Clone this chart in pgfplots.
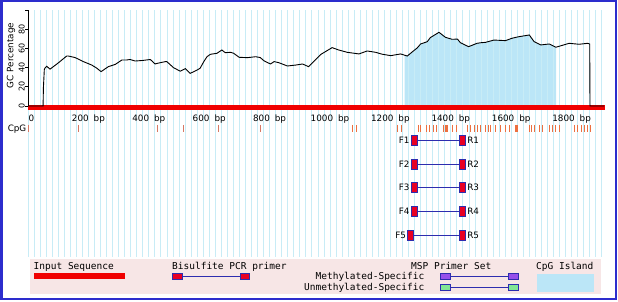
\documentclass[border=0pt]{standalone}
\usepackage{pgfplots}
\pgfplotsset{compat=1.18}
\usepackage{pgfplotstable}
\usepgfplotslibrary{fillbetween}
\usepackage{fontspec}
\setmainfont{DejaVu Sans}
\newfontfamily\monof{DejaVu Sans Mono}
\newcommand\sfs{\fontsize{8.8pt}{10pt}\selectfont}
\newcommand\yfs{\fontsize{8pt}{9pt}\selectfont}
\newcommand\lfs{\monof\fontsize{9.5pt}{11pt}\selectfont}

\definecolor{gridc}{RGB}{200,236,246}
\definecolor{islandc}{RGB}{187,230,247}
\definecolor{barred}{RGB}{240,0,0}
\definecolor{tickc}{RGB}{150,40,40}
\definecolor{cpgc}{RGB}{236,112,64}
\definecolor{cpgl}{RGB}{214,120,100}
\definecolor{primerblue}{RGB}{45,45,175}
\definecolor{primerred}{RGB}{232,0,36}
\definecolor{bordc}{RGB}{45,45,205}
\definecolor{legbg}{RGB}{247,230,230}
\definecolor{mspurple}{RGB}{150,80,235}
\definecolor{usgreen}{RGB}{130,230,150}

\pgfdeclareplotmark{primer}{\pgfpathrectangle{\pgfqpoint{-3pt}{-5pt}}{\pgfqpoint{6pt}{10pt}}\pgfusepathqfillstroke}

\pgfplotstableread{
bp gc
0 0
50 0
51 19
54 38
56 39.5
62 41.5
73 38.5
101 45.2
128 52.2
134 52.2
156 50.6
184 46.3
211 42.8
228 39.5
242 35.9
266 41.1
289 43.5
311 48.1
327 48.1
338 48.6
355 47.0
380 47.6
405 48.6
421 43.9
427 44.5
454 46.3
460 46.3
482 40.0
504 36.4
521 39.0
537 34.1
559 37.4
570 39.5
582 46.3
593 51.6
604 54.0
626 55.1
642 58.5
653 55.7
671 56.1
681 55.1
699 50.9
726 50.5
754 51.5
769 50.6
782 47.1
803 43.9
815 46.4
831 45.2
859 41.8
887 42.8
909 43.9
929 41.1
948 47.1
970 54.0
1007 61.0
1029 58.5
1057 56.1
1096 54.4
1123 57.5
1151 56.1
1173 54.1
1201 52.6
1234 54.4
1256 52.2
1273 56.7
1289 60.7
1300 64.8
1322 67.2
1332 71.4
1361 77.0
1382 71.8
1404 69.7
1422 69.9
1432 66.1
1459 62.0
1487 65.5
1499 66.1
1515 66.5
1543 68.9
1581 68.3
1603 70.8
1625 72.4
1660 74.2
1676 67.2
1698 63.8
1726 64.8
1748 61.4
1792 65.5
1825 64.5
1853 65.5
1860 64.8
1861 0
1908 0
}\gcdata

\begin{document}
\begin{tikzpicture}
% background grid
\begin{axis}[at={(28pt,45pt)}, anchor=south west, scale only axis,
  width=576.8pt, height=247pt, xmin=0, xmax=1910, ymin=0, ymax=1,
  axis line style={draw=none}, xtick={0,20,...,1900}, ytick=\empty,
  xticklabels={}, xmajorgrids, major grid style={gridc, line width=0.8pt},
  tick style={draw=none}]
\addplot[draw=none] coordinates {(0,0)};
\end{axis}

% GC curve
\begin{axis}[at={(28pt,196pt)}, anchor=south west, scale only axis,
  width=576.8pt, height=95.7pt, xmin=0, xmax=1910, ymin=0, ymax=100,
  clip=false, axis x line*=bottom, axis y line=none,
  x axis line style={draw=none}, tick align=inside,
  xtick={0,200,...,1800}, minor xtick={40,80,...,1880},
  major tick length=6pt, minor tick length=4.3pt,
  tick style={tickc, line width=0.8pt},
  xticklabels={{\hspace*{7pt}0},{200\hspace{5pt}bp},{400\hspace{5pt}bp},{600\hspace{5pt}bp},{800\hspace{5pt}bp},{1000\hspace{5pt}bp},{1200\hspace{5pt}bp},{1400\hspace{5pt}bp},{1600\hspace{5pt}bp},{1800\hspace{5pt}bp}},
  xticklabel style={font=\sfs, anchor=base, inner sep=0pt, yshift=-15.5pt}]
\addplot[draw=none, name path=gc] table[x=bp,y=gc]{\gcdata};
\addplot[draw=none, name path=base] coordinates {(0,0) (1910,0)};
\addplot[islandc, draw=none] fill between[of=gc and base, soft clip={domain=1247:1749}];
\addplot[fill=barred, draw=none] coordinates {(0,1.0) (1910,1.0) (1910,-4.7) (0,-4.7)};
\addplot[black, line width=0.9pt] table[x=bp,y=gc]{\gcdata};
\end{axis}

% y axis
\begin{axis}[at={(28pt,196pt)}, anchor=south west, scale only axis,
  width=576.8pt, height=95.7pt, xmin=0, xmax=1910, ymin=0, ymax=100,
  axis y line*=left, axis x line=none, tick align=outside,
  major tick length=3pt, ytick={0,20,...,100}, yticklabels={0,20,40,60,80,},
  yticklabel style={font=\yfs, rotate=90, anchor=south, inner sep=0pt},
  y axis line style={line width=0.8pt}, tick style={black, line width=0.8pt}]
\addplot[draw=none] coordinates {(0,0)};
\end{axis}

% canvas: CpG sites and primers
\begin{axis}[at={(28pt,0pt)}, anchor=south west, scale only axis,
  width=576.8pt, height=302pt, xmin=0, xmax=1910, ymin=-302, ymax=0,
  hide axis, clip=false]
\addplot[only marks, mark=|, mark size=3.5pt, cpgl, mark options={line width=0.9pt}]
  coordinates {(3,-128.5) (166,-128.5) (427,-128.5) (514,-128.5) (630,-128.5) (769,-128.5)};
\addplot[only marks, mark=|, mark size=3.5pt, cpgc, mark options={line width=0.9pt}]
  coordinates {(1073,-128.5) (1087,-128.5) (1225,-128.5) (1238,-128.5)
  (1292,-128.5) (1300,-128.5) (1320,-128.5) (1330,-128.5) (1343,-128.5) (1352,-128.5)
  (1377,-128.5) (1381,-128.5) (1385,-128.5) (1389,-128.5) (1405,-128.5) (1418,-128.5)
  (1455,-128.5) (1466,-128.5) (1477,-128.5) (1488,-128.5) (1499,-128.5)
  (1516,-128.5) (1524,-128.5) (1532,-128.5) (1549,-128.5) (1565,-128.5) (1582,-128.5) (1593,-128.5)
  (1613,-128.5) (1617,-128.5) (1621,-128.5) (1659,-128.5) (1667,-128.5) (1676,-128.5)
  (1693,-128.5) (1704,-128.5) (1726,-128.5) (1737,-128.5) (1748,-128.5) (1759,-128.5)
  (1809,-128.5) (1820,-128.5) (1831,-128.5) (1842,-128.5) (1853,-128.5) (1864,-128.5)};
\pgfplotsset{primerrow/.style={primerblue, line width=0.9pt, mark=primer,
  mark options={fill=primerred, draw=primerblue, line width=0.8pt}}}
\addplot[primerrow] coordinates {(1279,-140) (1439,-140)};
\addplot[primerrow] coordinates {(1279,-164) (1439,-164)};
\addplot[primerrow] coordinates {(1279,-187.5) (1439,-187.5)};
\addplot[primerrow] coordinates {(1279,-211.5) (1439,-211.5)};
\addplot[primerrow] coordinates {(1267,-235) (1439,-235)};
\node[anchor=east, inner sep=0pt, font=\sfs, xshift=-4.5pt] at (axis cs:1279,-140) {F1};
\node[anchor=east, inner sep=0pt, font=\sfs, xshift=-4.5pt] at (axis cs:1279,-164) {F2};
\node[anchor=east, inner sep=0pt, font=\sfs, xshift=-4.5pt] at (axis cs:1279,-187.5) {F3};
\node[anchor=east, inner sep=0pt, font=\sfs, xshift=-4.5pt] at (axis cs:1279,-211.5) {F4};
\node[anchor=east, inner sep=0pt, font=\sfs, xshift=-4.5pt] at (axis cs:1267,-235) {F5};
\node[anchor=west, inner sep=0pt, font=\sfs, xshift=4.5pt] at (axis cs:1439,-140) {R1};
\node[anchor=west, inner sep=0pt, font=\sfs, xshift=4.5pt] at (axis cs:1439,-164) {R2};
\node[anchor=west, inner sep=0pt, font=\sfs, xshift=4.5pt] at (axis cs:1439,-187.5) {R3};
\node[anchor=west, inner sep=0pt, font=\sfs, xshift=4.5pt] at (axis cs:1439,-211.5) {R4};
\node[anchor=west, inner sep=0pt, font=\sfs, xshift=4.5pt] at (axis cs:1439,-235) {R5};
\end{axis}

% labels
\node[rotate=90, font=\sfs, inner sep=0pt] at (11pt,246.5pt) {GC Percentage};
\node[anchor=base east, font=\sfs, inner sep=0pt] at (26.5pt,170pt) {CpG};

% legend
\fill[legbg] (30pt,8pt) rectangle (601pt,43pt);
\node[anchor=base west, inner sep=0pt, font=\lfs] at (33.5pt,32.5pt) {Input Sequence};
\fill[barred] (33.5pt,23pt) rectangle (125pt,29pt);
\node[anchor=base west, inner sep=0pt, font=\lfs] at (172pt,32.5pt) {Bisulfite PCR primer};
\draw[primerblue, line width=0.9pt] (177pt,26pt) -- (245pt,26pt);
\filldraw[fill=primerred, draw=primerblue, line width=0.8pt] (172pt,23pt) rectangle (182.5pt,29pt);
\filldraw[fill=primerred, draw=primerblue, line width=0.8pt] (240pt,23pt) rectangle (249.5pt,29pt);
\node[anchor=base west, inner sep=0pt, font=\lfs] at (411pt,32.5pt) {MSP Primer Set};
\node[anchor=base east, inner sep=0pt, font=\lfs] at (424.5pt,22.5pt) {Methylated-Specific};
\node[anchor=base east, inner sep=0pt, font=\lfs] at (424.5pt,11.5pt) {Unmethylated-Specific};
\draw[primerblue, line width=0.9pt] (445pt,26pt) -- (513pt,26pt);
\filldraw[fill=mspurple, draw=primerblue, line width=0.8pt] (440.7pt,23pt) rectangle (450.5pt,29pt);
\filldraw[fill=mspurple, draw=primerblue, line width=0.8pt] (508.5pt,23pt) rectangle (518pt,29pt);
\draw[primerblue, line width=0.9pt] (445pt,15pt) -- (513pt,15pt);
\filldraw[fill=usgreen, draw=primerblue, line width=0.8pt] (440.7pt,12pt) rectangle (450.5pt,18pt);
\filldraw[fill=usgreen, draw=primerblue, line width=0.8pt] (508.5pt,12pt) rectangle (518pt,18pt);
\node[anchor=base west, inner sep=0pt, font=\lfs] at (536pt,32.5pt) {CpG Island};
\fill[islandc] (537pt,10pt) rectangle (594.4pt,28pt);

% border
\draw[bordc, line width=2.4pt] (1.3pt,3.2pt) rectangle (615.7pt,301pt);

\pgfresetboundingbox
\path (0,0) rectangle (618pt,302pt);
\end{tikzpicture}
\end{document}
